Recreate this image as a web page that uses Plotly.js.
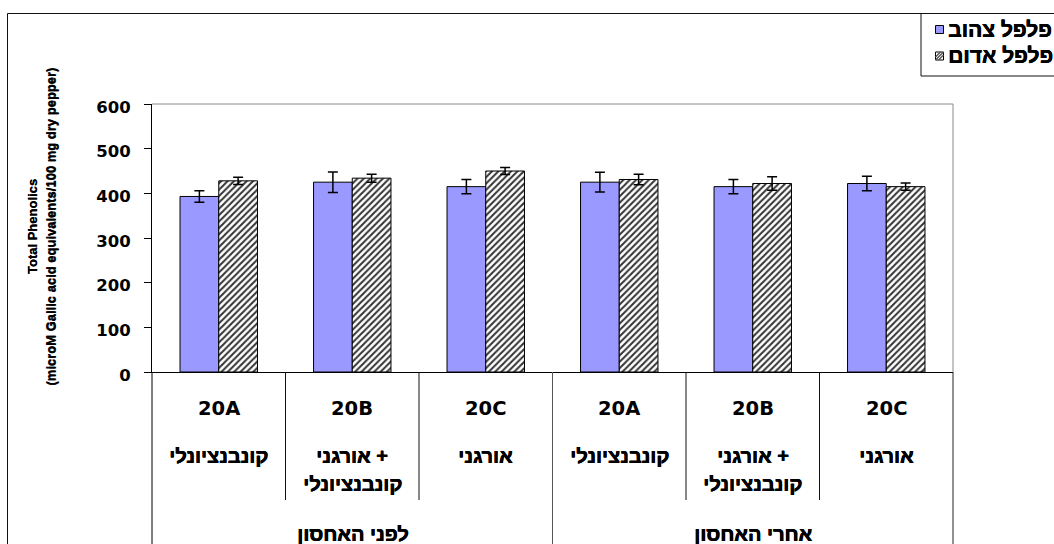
<!DOCTYPE html>
<html>
<head>
<meta charset="utf-8">
<script src="https://cdn.plot.ly/plotly-3.0.1.min.js"></script>
<style>
  html, body { margin: 0; padding: 0; background: #fff; }
  #chart { width: 1054px; height: 544px; }
</style>
</head>
<body>
<div id="chart"></div>
<script>
// Sample codes and growing method for each column
const sampleCodes = ['20A', '20B', '20C', '20A', '20B', '20C'];
const methodLine1 = ['קונבנציונלי', 'אורגני +', 'אורגני', 'קונבנציונלי', 'אורגני +', 'אורגני'];
const methodLine2 = ['', 'קונבנציונלי', '', '', 'קונבנציונלי', ''];
const storageGroups = ['לפני האחסון', 'אחרי האחסון'];
const seriesNames = ['פלפל צהוב', 'פלפל אדום'];

// Total phenolics, microM gallic acid equivalents / 100 mg dry pepper
const yellowPepper = [393, 425, 415, 425, 415, 422];
const yellowErr    = [13, 23, 16, 22, 16, 16];
const redPepper    = [428, 434, 450, 431, 422, 415];
const redErr       = [8, 9, 8, 12, 15, 8];

const yTicks = [0, 100, 200, 300, 400, 500, 600];
const yTitle1 = 'Total Phenolics';
const yTitle2 = '(microM Gallic acid equivalents/100 mg dry pepper)';

// page geometry
const W = 1054, H = 544;
const M = { l: 152, r: 101, t: 104, b: 172 };
const plotW = W - M.l - M.r, plotH = H - M.t - M.b;
const fx = px => (px - M.l) / plotW;          // pixel -> paper x
const fy = py => (H - M.b - py) / plotH;      // pixel -> paper y

const xIdx = sampleCodes.map((_, i) => i);
const BOLD = { family: 'DejaVu Sans', weight: 'bold', color: '#000' };
// Hebrew has no bold face available, so thicken the strokes with a tight shadow
const HEB = { family: 'Liberation Sans, Arial, sans-serif', weight: 'bold', color: '#000',
  shadow: '0.6px 0 0 #000, 0.3px 0.2px 0 #000' };

const traces = [
  {
    type: 'bar', name: seriesNames[0], x: xIdx, y: yellowPepper,
    marker: { color: '#9999FF', line: { color: '#000', width: 1 } },
    error_y: { type: 'data', array: yellowErr, visible: true, color: '#000', thickness: 1.5, width: 5 },
    hoverinfo: 'y'
  },
  {
    type: 'bar', name: seriesNames[1], x: xIdx, y: redPepper,
    marker: {
      color: '#fff',
      pattern: { shape: '/', fgcolor: '#333', bgcolor: '#fff', size: 4.5, solidity: 0.45 },
      line: { color: '#000', width: 1 }
    },
    error_y: { type: 'data', array: redErr, visible: true, color: '#000', thickness: 1.5, width: 5 },
    hoverinfo: 'y'
  }
];

const shapes = [];
const line = (x0, y0, x1, y1, xref, color, width) => shapes.push({
  type: 'line', xref: xref, yref: 'paper', x0, y0, x1, y1,
  line: { color: color, width: width || 1 }
});

// plot frame (top and right, light)
line(0, 1, 1, 1, 'paper', '#8a8a8a');
line(1, 0, 1, 1, 'paper', '#8a8a8a');
// category table below the axis
line(0, 0, 0, fy(H + 2), 'paper', '#000');
line(1, 0, 1, fy(H + 2), 'paper', '#222');
xIdx.slice(0, -1).forEach(i => {
  const groupEnd = (i + 1) % 3 === 0;
  line(i + 0.5, 0, i + 0.5, groupEnd ? fy(H + 2) : fy(500), 'x', groupEnd ? '#555' : '#111');
});
// outer chart frame
line(fx(7.5), fy(13.5), fx(7.5), fy(H + 2), 'paper', '#111');
line(fx(7.5), fy(13.5), fx(921), fy(13.5), 'paper', '#111');

// legend box
shapes.push({ type: 'rect', xref: 'paper', yref: 'paper', x0: fx(921), x1: fx(W + 10), y0: fy(76), y1: fy(13.5),
  line: { color: '#111', width: 1 }, fillcolor: '#fff' });
shapes.push({ type: 'rect', xref: 'paper', yref: 'paper', x0: fx(935.5), x1: fx(943.5), y0: fy(33.5), y1: fy(25.5),
  line: { color: '#000', width: 1 }, fillcolor: '#9999FF' });
shapes.push({ type: 'rect', xref: 'paper', yref: 'paper', x0: fx(935.5), x1: fx(943.5), y0: fy(60), y1: fy(52),
  line: { color: '#000', width: 1 }, fillcolor: '#fff' });
// hatch strokes inside the second legend swatch
let hp = '';
[[935.5, 57, 940.5, 52], [935.5, 60, 943.5, 52], [938.5, 60, 943.5, 55]].forEach(s => {
  hp += `M${fx(s[0])},${fy(s[1])}L${fx(s[2])},${fy(s[3])}`;
});
shapes.push({ type: 'path', xref: 'paper', yref: 'paper', path: hp, line: { color: '#555', width: 1.3 } });

const annotations = [];
const ann = (o) => annotations.push(Object.assign({ showarrow: false, yref: 'paper' }, o));

xIdx.forEach(i => {
  ann({ xref: 'x', x: i, y: fy(408), text: sampleCodes[i], font: Object.assign({ size: 19.5 }, BOLD), yanchor: 'middle' });
  ann({ xref: 'x', x: i, y: fy(456), text: methodLine1[i], font: Object.assign({ size: 20 }, HEB), yanchor: 'middle' });
  if (methodLine2[i]) {
    ann({ xref: 'x', x: i, y: fy(483.5), text: methodLine2[i], font: Object.assign({ size: 20 }, HEB), yanchor: 'middle' });
  }
});
storageGroups.forEach((g, k) => {
  ann({ xref: 'x', x: k * 3 + 1, y: fy(533.5), text: g, font: Object.assign({ size: 20 }, HEB), yanchor: 'middle' });
});

// y axis title, two rotated lines
const TITLE_FONT = { family: 'Liberation Sans, Arial, sans-serif', weight: 'bold', size: 13, color: '#000',
  shadow: '0 -0.5px 0 #000' };
ann({ xref: 'paper', x: fx(32), y: fy(227), text: yTitle1, textangle: -90, font: TITLE_FONT, xanchor: 'center', yanchor: 'middle' });
ann({ xref: 'paper', x: fx(50.5), y: fy(227), text: yTitle2, textangle: -90, font: TITLE_FONT, xanchor: 'center', yanchor: 'middle' });

// legend labels
ann({ xref: 'paper', x: fx(946), y: fy(29.5), text: seriesNames[0], xanchor: 'left', yanchor: 'middle', font: Object.assign({ size: 21 }, HEB) });
ann({ xref: 'paper', x: fx(946), y: fy(56), text: seriesNames[1], xanchor: 'left', yanchor: 'middle', font: Object.assign({ size: 21 }, HEB) });

const layout = {
  width: W, height: H,
  margin: Object.assign({ pad: 0, autoexpand: false }, M),
  paper_bgcolor: '#fff', plot_bgcolor: '#fff',
  showlegend: false,
  barmode: 'group', bargap: 0.42, bargroupgap: 0,
  xaxis: {
    range: [-0.5, 5.5], showticklabels: false, ticks: '', showgrid: false, zeroline: false,
    showline: true, linecolor: '#000', linewidth: 1, fixedrange: true
  },
  yaxis: {
    range: [0, 600], tickvals: yTicks, ticktext: yTicks.map(String),
    ticks: 'outside', ticklen: 7, tickwidth: 1, tickcolor: '#000',
    showline: true, linecolor: '#000', linewidth: 1, showgrid: false, zeroline: false,
    tickfont: Object.assign({ size: 16.5 }, BOLD), ticklabelstandoff: 10, ticklabelshift: 3,
    fixedrange: true
  },
  shapes: shapes,
  annotations: annotations,
  font: { family: 'DejaVu Sans', color: '#000' }
};

Plotly.newPlot('chart', traces, layout, { displayModeBar: false, staticPlot: true });
</script>
</body>
</html>
